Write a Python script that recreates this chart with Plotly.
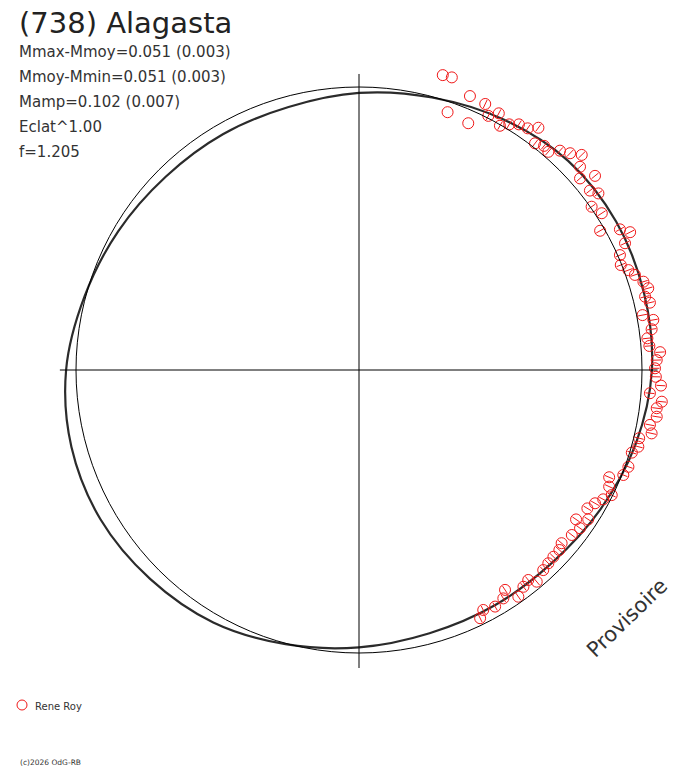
import plotly.graph_objects as go
import numpy as np

# texte
titre = "(738) Alagasta"
lignes_stats = [
    "Mmax-Mmoy=0.051 (0.003)",
    "Mmoy-Mmin=0.051 (0.003)",
    "Mamp=0.102 (0.007)",
    "Eclat^1.00",
    "f=1.205",
]
observateur = "Rene Roy"
copyright_txt = "(c)2026 OdG-RB"

# courbe modele (phase en degres, rayon relatif au cercle de reference)
phase_modele = [0, 15, 30, 45, 60, 75, 90, 105, 120, 135, 150, 165, 180,
                195, 210, 225, 240, 255, 270, 285, 300, 315, 330, 345, 360]
r_modele = [1.035, 1.043, 1.049, 1.045, 1.022, 0.997, 0.979, 0.962, 0.962,
            0.966, 0.982, 1.004, 1.035, 1.052, 1.055, 1.044, 1.030, 1.003,
            0.980, 0.963, 0.960, 0.964, 0.985, 1.012, 1.035]

# mesures (coordonnees relatives au cercle de reference)
obs_x = [0.296, 0.328, 0.392, 0.313, 0.386, 0.446, 0.457, 0.494, 0.498, 0.531,
         0.565, 0.596, 0.634, 0.622, 0.654, 0.669, 0.710, 0.746, 0.787, 0.781,
         0.781, 0.834, 0.816, 0.846, 0.822, 0.858, 0.852, 0.922, 0.958, 0.940,
         0.922, 0.925, 0.952, 0.975, 1.005, 1.022, 1.011, 1.028, 1.002, 1.040,
         1.034, 1.019, 1.026, 1.064, 1.052, 1.046, 1.049, 1.067, 1.028, 1.070,
         1.052, 1.052, 1.028, 1.034, 0.990, 0.987, 0.964, 0.952, 0.934, 0.884,
         0.884, 0.893, 0.863, 0.834, 0.807, 0.810, 0.767, 0.781, 0.752, 0.716,
         0.708, 0.687, 0.669, 0.651, 0.628, 0.598, 0.581, 0.516, 0.563, 0.510,
         0.481, 0.439, 0.428]
obs_y = [1.042, 1.034, 0.968, 0.911, 0.872, 0.940, 0.898, 0.907, 0.863, 0.868,
         0.868, 0.854, 0.856, 0.801, 0.792, 0.771, 0.775, 0.766, 0.760, 0.718,
         0.677, 0.686, 0.634, 0.624, 0.577, 0.554, 0.492, 0.497, 0.487, 0.448,
         0.406, 0.371, 0.353, 0.336, 0.312, 0.289, 0.259, 0.238, 0.194, 0.177,
         0.144, 0.112, 0.085, 0.063, 0.035, 0.006, -0.024, -0.055, -0.082, -0.112,
         -0.135, -0.165, -0.194, -0.224, -0.241, -0.271, -0.292, -0.342, -0.371, -0.379,
         -0.412, -0.442, -0.457, -0.471, -0.489, -0.528, -0.528, -0.559, -0.583, -0.612,
         -0.636, -0.660, -0.683, -0.707, -0.748, -0.742, -0.766, -0.777, -0.801, -0.807,
         -0.836, -0.848, -0.877]
# barres d'erreur (demi-longueur radiale); les 5 premieres mesures n'en ont pas
erreur = [0.0] * 5 + [0.016] * (len(obs_x) - 5)

W, H = 688, 768
police = "DejaVu Sans"
rouge = "#f01818"

theta = np.radians(phase_modele)
mod_x = np.array(r_modele) * np.cos(theta)
mod_y = np.array(r_modele) * np.sin(theta)

# segments radiaux des barres d'erreur
ox, oy, err = np.array(obs_x), np.array(obs_y), np.array(erreur)
rr = np.hypot(ox, oy)
ux, uy = ox / rr, oy / rr
seg_x, seg_y = [], []
for i in range(len(ox)):
    if err[i] > 0:
        seg_x += [ox[i] - err[i] * ux[i], ox[i] + err[i] * ux[i], None]
        seg_y += [oy[i] - err[i] * uy[i], oy[i] + err[i] * uy[i], None]

fig = go.Figure()

# cercle de reference et axes
fig.add_shape(type="circle", x0=-1, y0=-1, x1=1, y1=1,
              line=dict(color="black", width=1))
fig.add_shape(type="line", x0=-1.057, x1=1.055, y0=0, y1=0,
              line=dict(color="black", width=1))
fig.add_shape(type="line", x0=0, x1=0, y0=-1.053, y1=1.046,
              line=dict(color="black", width=1))

fig.add_trace(go.Scatter(
    x=mod_x, y=mod_y, mode="lines",
    line=dict(color="#2b2b2b", width=2.2, shape="spline"),
    showlegend=False, hoverinfo="skip"))

fig.add_trace(go.Scatter(
    x=seg_x, y=seg_y, mode="lines", line=dict(color=rouge, width=1),
    showlegend=False, hoverinfo="skip"))

fig.add_trace(go.Scatter(
    x=obs_x, y=obs_y, mode="markers", name=observateur, showlegend=False,
    marker=dict(symbol="circle-open", size=11, color=rouge,
                line=dict(width=1))))

# legende faite a la main (symbole + nom)
fig.add_shape(type="circle", xref="paper", yref="paper",
              x0=17 / W, x1=27 / W, y0=1 - 710 / H, y1=1 - 700 / H,
              line=dict(color=rouge, width=1))

annotations = [dict(text=titre, x=17 / W, y=1 - 23 / H, xref="paper", yref="paper",
                    xanchor="left", yanchor="middle", showarrow=False,
                    font=dict(family=police, size=29, color="#222"))]
for i, t in enumerate(lignes_stats):
    annotations.append(dict(text=t, x=17 / W, y=1 - (52 + 25 * i) / H,
                            xref="paper", yref="paper", xanchor="left",
                            yanchor="middle", showarrow=False,
                            font=dict(family=police, size=15, color="#333")))
annotations.append(dict(text="Provisoire", x=627 / W, y=1 - 618 / H,
                        xref="paper", yref="paper", showarrow=False,
                        xanchor="center", yanchor="middle", textangle=-44,
                        font=dict(family=police, size=21, color="#333")))
annotations.append(dict(text=observateur, x=33 / W, y=1 - 706 / H,
                        xref="paper", yref="paper", xanchor="left",
                        yanchor="middle", showarrow=False,
                        font=dict(family=police, size=10, color="#333")))
annotations.append(dict(text=copyright_txt, x=18 / W, y=1 - 762 / H,
                        xref="paper", yref="paper", xanchor="left",
                        yanchor="middle", showarrow=False,
                        font=dict(family=police, size=7.5, color="#333")))

fig.update_layout(
    width=W, height=H,
    margin=dict(l=0, r=0, t=0, b=0),
    paper_bgcolor="white", plot_bgcolor="white",
    xaxis=dict(range=[-359 / 283, (W - 359) / 283], visible=False, fixedrange=True),
    yaxis=dict(range=[-(H - 370) / 283, 370 / 283], visible=False, fixedrange=True),
    showlegend=False,
    annotations=annotations,
)

fig.write_html("out.html", config={"displayModeBar": False},
               post_script="document.body.style.margin='0px';")
